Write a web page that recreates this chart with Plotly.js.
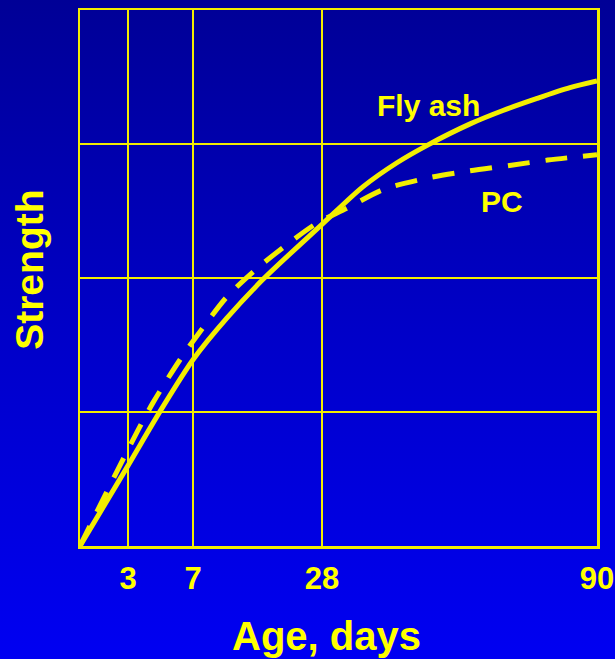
<!DOCTYPE html>
<html>
<head>
<meta charset="utf-8">
<script src="https://cdn.plot.ly/plotly-3.0.1.min.js"></script>
<style>
  html, body { margin: 0; padding: 0; width: 615px; height: 659px; overflow: hidden; }
  body { background: linear-gradient(to bottom, #000096 0%, #0000c8 50%, #0000f2 100%); }
  #chart { width: 615px; height: 659px; }
</style>
</head>
<body>
<div id="chart"></div>
<script>
// ---- Data (age in days, strength in relative grid units 0-4) ----
const ageTicks = [3, 7, 28, 90];
const ageTickLabels = ['3', '7', '28', '90'];

const flyAshAge      = [0, 3, 5, 7, 12.5, 18.4, 28, 37.2, 44.9, 51.7, 61.4, 68.8, 76.5, 83.9, 90];
const flyAshStrength = [0, 0.60, 1.01, 1.39, 1.70, 1.99, 2.40, 2.68, 2.86, 2.99, 3.15, 3.25, 3.34, 3.42, 3.47];

const pcAge      = [0, 3, 4.54, 6.2, 8.63, 12.53, 17.4, 22.3, 27.2, 33.6, 41.8, 52.4, 61.4, 70.3, 78.9, 90];
const pcStrength = [0, 0.72, 1.07, 1.39, 1.63, 1.86, 2.07, 2.25, 2.41, 2.52, 2.66, 2.75, 2.80, 2.84, 2.88, 2.92];

// The original age axis is schematic (non-linear); define its scale by anchors.
const scaleDays  = [0, 3, 7, 28, 90];
const scaleUnits = [0, 48, 113, 242, 517];
function toAxis(d) {
  for (let i = 1; i < scaleDays.length; i++) {
    if (d <= scaleDays[i]) {
      const t = (d - scaleDays[i-1]) / (scaleDays[i] - scaleDays[i-1]);
      return scaleUnits[i-1] + t * (scaleUnits[i] - scaleUnits[i-1]);
    }
  }
  return scaleUnits[scaleUnits.length - 1];
}

const YEL = '#ffff00';
const LINE_YEL = '#f2ee00';
const FONT = 'Liberation Sans, Arial, Helvetica, sans-serif';

const traces = [
  {
    x: flyAshAge.map(toAxis), y: flyAshStrength,
    mode: 'lines', name: 'Fly ash',
    line: { color: LINE_YEL, width: 5, shape: 'spline', smoothing: 0.8 },
    hoverinfo: 'skip'
  },
  {
    x: pcAge.map(toAxis), y: pcStrength,
    mode: 'lines', name: 'PC',
    line: { color: LINE_YEL, width: 5, shape: 'spline', smoothing: 0.8, dash: '22px,16px' },
    hoverinfo: 'skip'
  }
];

const layout = {
  width: 615, height: 659,
  margin: { l: 80, r: 18, t: 10, b: 113 },
  paper_bgcolor: 'rgba(0,0,0,0)',
  plot_bgcolor: 'rgba(0,0,0,0)',
  showlegend: false,
  font: { family: FONT, color: YEL, weight: 'bold' },
  xaxis: {
    range: [0, scaleUnits[scaleUnits.length - 1]],
    tickmode: 'array',
    tickvals: ageTicks.map(toAxis),
    ticktext: ageTickLabels,
    showgrid: true, gridcolor: LINE_YEL, gridwidth: 2,
    showline: true, mirror: true, linecolor: LINE_YEL, linewidth: 2.5,
    zeroline: false, ticks: '',
    tickfont: { size: 31, color: YEL, family: FONT, weight: 'bold' },
    ticklabelstandoff: 3,
    fixedrange: true
  },
  yaxis: {
    range: [0, 4],
    tickmode: 'array', tickvals: [1, 2, 3],
    showgrid: true, gridcolor: LINE_YEL, gridwidth: 2,
    showline: true, mirror: true, linecolor: LINE_YEL, linewidth: 2.5,
    zeroline: false, ticks: '', showticklabels: false,
    fixedrange: true
  },
  annotations: [
    { text: 'Fly ash', xref: 'paper', yref: 'paper', x: 0.675, y: 0.822,
      showarrow: false, xanchor: 'center', yanchor: 'middle',
      font: { size: 30, color: YEL, family: FONT, weight: 'bold' } },
    { text: 'PC', xref: 'paper', yref: 'paper', x: 0.816, y: 0.643,
      showarrow: false, xanchor: 'center', yanchor: 'middle',
      font: { size: 30, color: YEL, family: FONT, weight: 'bold' } },
    { text: 'Age, days', xref: 'paper', yref: 'paper', x: 0.476, y: -0.167,
      showarrow: false, xanchor: 'center', yanchor: 'middle',
      font: { size: 40, color: YEL, family: FONT, weight: 'bold' } },
    { text: 'Strength', xref: 'paper', yref: 'paper', x: -0.097, y: 0.515,
      showarrow: false, xanchor: 'center', yanchor: 'middle', textangle: -90,
      font: { size: 39, color: YEL, family: FONT, weight: 'bold' } }
  ]
};

Plotly.newPlot('chart', traces, layout, { staticPlot: true, displayModeBar: false });
</script>
</body>
</html>
